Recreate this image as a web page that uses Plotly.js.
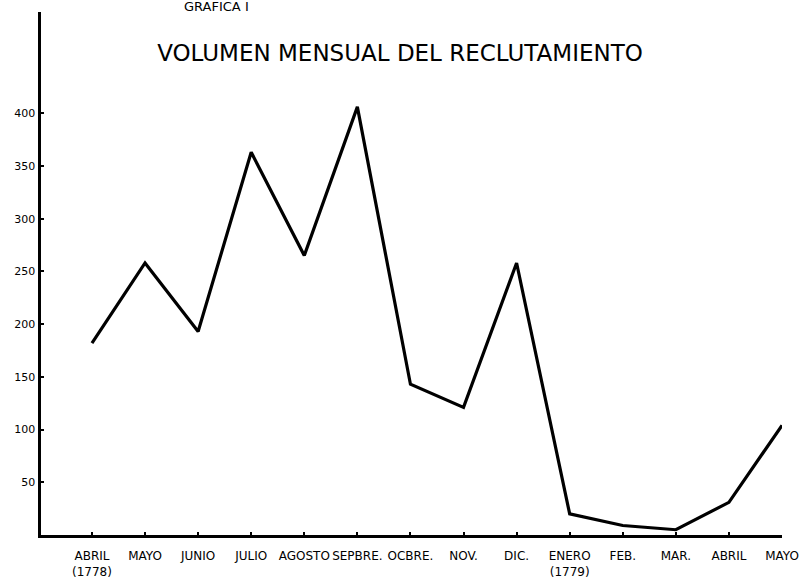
<!DOCTYPE html>
<html>
<head>
<meta charset="utf-8">
<script src="https://cdn.plot.ly/plotly-3.0.1.min.js"></script>
<style>html,body{margin:0;padding:0;background:#fff;}#chart{width:806px;height:585px;}</style>
</head>
<body>
<div id="chart"></div>
<script>
const monthIndex = [0,1,2,3,4,5,6,7,8,9,10,11,12,13];
const monthLabels = ["ABRIL<br>(1778)","MAYO","JUNIO","JULIO","AGOSTO","SEPBRE.","OCBRE.","NOV.","DIC.","ENERO<br>(1779)","FEB.","MAR.","ABRIL","MAYO"];
const recruits = [182, 258, 193, 363, 265, 406, 143, 121, 258, 20, 9, 5, 31, 104];
const yTickVals = [50,100,150,200,250,300,350,400];
const yTickText = ["50","100","150","200","250","300","350","400"];

const trace = {
  x: monthIndex,
  y: recruits,
  type: 'scatter',
  mode: 'lines',
  line: {color: '#000', width: 3.2},
  cliponaxis: false,
  hoverinfo: 'skip'
};

const layout = {
  width: 806, height: 585,
  margin: {l: 41, r: 24, t: 12, b: 50},
  paper_bgcolor: '#fff', plot_bgcolor: '#fff',
  showlegend: false,
  font: {family: 'DejaVu Sans', color: '#000'},
  title: {
    text: 'VOLUMEN MENSUAL DEL RECLUTAMIENTO',
    font: {family: 'DejaVu Sans', size: 23, color: '#000'},
    xref: 'paper', x: 0.4845, xanchor: 'center',
    yref: 'container', y: 0.909, yanchor: 'middle'
  },
  xaxis: {
    range: [-0.96, 13],
    tickmode: 'array', tickvals: monthIndex, ticktext: monthLabels,
    showgrid: false, zeroline: false,
    showline: true, linecolor: '#000', linewidth: 2.5,
    ticks: 'inside', ticklen: 3, tickwidth: 2, tickcolor: '#000',
    tickfont: {family: 'DejaVu Sans', size: 12, color: '#000'},
    ticklabelstandoff: 8
  },
  yaxis: {
    range: [0, 496],
    tickmode: 'array', tickvals: yTickVals, ticktext: yTickText,
    showgrid: false, zeroline: false,
    showline: true, linecolor: '#000', linewidth: 3.5,
    ticks: 'inside', ticklen: 3, tickwidth: 2, tickcolor: '#000',
    tickfont: {family: 'DejaVu Sans', size: 11, color: '#000'}
  },
  annotations: [{
    text: 'GRAFICA I',
    xref: 'paper', yref: 'paper',
    x: 0.237, y: 1.011, xanchor: 'center', yanchor: 'middle',
    showarrow: false,
    font: {family: 'DejaVu Sans', size: 13, color: '#000'}
  }]
};

Plotly.newPlot('chart', [trace], layout, {displayModeBar: false, staticPlot: true});
</script>
</body>
</html>
